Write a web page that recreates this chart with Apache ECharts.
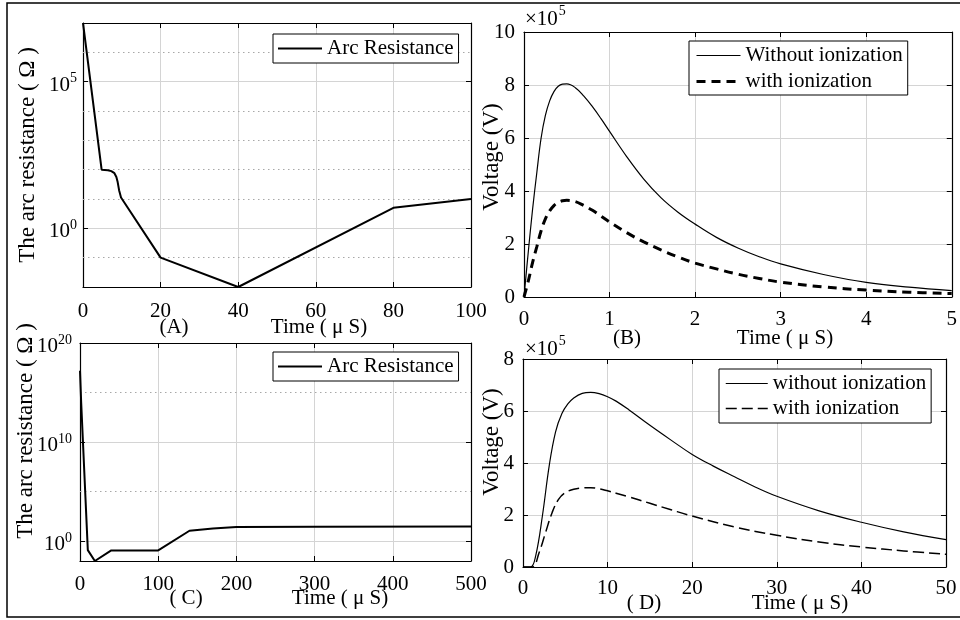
<!DOCTYPE html>
<html><head><meta charset="utf-8">
<script src="https://cdn.jsdelivr.net/npm/echarts@6/dist/echarts.min.js"></script>
<style>html,body{margin:0;padding:0;background:#fff}#c{width:960px;height:620px}</style>
</head><body><div id="c"></div><script>
const FONT = "'Liberation Serif','Times New Roman',serif";

// ---- Panel A: arc resistance, log10(Ohm) vs time (us)
const tA    = [0, 4.8, 6.4, 7.3, 8.1, 8.6, 8.9, 9.3, 9.8, 20, 40, 80, 100];
const logRA = [7, 2.0, 1.98, 1.95, 1.88, 1.75, 1.6, 1.3, 1.05, -1.0, -2.0, 0.7, 1.0];
const majorA = [0, 5];
const minorA = [-1, 1, 2, 3, 4, 6];

// ---- Panel B: voltage (x1e5 V) vs time (us)
const tB = [0, 0.05, 0.1, 0.15, 0.2, 0.25, 0.3, 0.35, 0.4, 0.45, 0.5, 0.6, 0.7, 0.8, 0.9, 1.0, 1.2, 1.4, 1.6, 1.8, 2.0, 2.25, 2.5, 2.75, 3.0, 3.5, 4.0, 4.5, 5.0];
const vBwithout = [0, 1.7, 3.3, 4.7, 6.0, 6.85, 7.4, 7.75, 7.95, 8.03, 8.04, 7.9, 7.58, 7.18, 6.73, 6.25, 5.3, 4.45, 3.75, 3.2, 2.75, 2.25, 1.85, 1.52, 1.25, 0.85, 0.55, 0.37, 0.24];
const vBwith    = [0, 0.6, 1.3, 1.9, 2.5, 2.95, 3.25, 3.45, 3.57, 3.63, 3.65, 3.6, 3.45, 3.27, 3.05, 2.83, 2.43, 2.08, 1.78, 1.51, 1.28, 1.06, 0.86, 0.7, 0.56, 0.38, 0.26, 0.18, 0.13];

// ---- Panel C: arc resistance, log10(Ohm) vs time (us)
const tC    = [0, 1.5, 10, 19, 40, 100, 140, 170, 200, 300, 500];
const logRC = [17.2, 14, -0.9, -2, -0.93, -0.93, 1.05, 1.28, 1.42, 1.46, 1.48];
const majorC = [0, 10, 20];
const minorC = [5, 15];

// ---- Panel D: voltage (x1e5 V) vs time (us)
const tD1 = [0, 0.9, 1.5, 2.3, 3.1, 3.85, 4.6, 5.3, 6, 7, 8, 9, 10, 11, 12.5, 15, 17.5, 20, 22.5, 25, 27.5, 30, 35, 40, 45, 50];
const vDwithout = [0, 0, 0.43, 1.98, 3.9, 5.2, 5.9, 6.27, 6.5, 6.68, 6.72, 6.67, 6.55, 6.38, 6.05, 5.45, 4.88, 4.33, 3.88, 3.47, 3.07, 2.72, 2.16, 1.72, 1.35, 1.05];
const tD2 = [0, 1.1, 1.9, 2.67, 3.45, 4.2, 5.0, 6, 7, 8, 9, 10, 11, 12.5, 15, 17.5, 20, 25, 30, 35, 40, 45, 50];
const vDwith = [0, 0, 0.55, 1.33, 2.1, 2.6, 2.86, 2.99, 3.04, 3.05, 3.01, 2.93, 2.84, 2.7, 2.45, 2.2, 1.96, 1.54, 1.22, 0.96, 0.77, 0.62, 0.49];

const zip = (a, b) => a.map((v, i) => [v, b[i]]);

const grids = [
  {left: 83,  top: 23,  width: 388, height: 264},
  {left: 524, top: 32,  width: 429, height: 265},
  {left: 80,  top: 343, width: 391, height: 218},
  {left: 523, top: 359, width: 423, height: 208}
];

const axisLine = {show: true, onZero: false, lineStyle: {color: '#000', width: 1.2}};
const tickIn = {show: true, inside: true, length: 5, lineStyle: {color: '#000', width: 1}};
const split = {show: true, lineStyle: {color: '#d4d4d4', width: 1}};
const lab = (margin) => ({show: true, margin, color: '#000', fontFamily: FONT, fontSize: 21});
const supFmt = v => '{b|10}{s|' + v + '}';
const supRich = {
  b: {fontFamily: FONT, fontSize: 21, color: '#000', padding: [7, 0, 0, 0]},
  s: {fontFamily: FONT, fontSize: 14, color: '#000', padding: [0, 0, 6, 0]}
};

function xPair(gi, min, max, interval, margin) {
  return [
    {type: 'value', gridIndex: gi, min, max, interval, position: 'bottom',
     axisLine, axisTick: tickIn, splitLine: split, axisLabel: lab(margin)},
    {type: 'value', gridIndex: gi, min, max, interval, position: 'top',
     axisLine, axisTick: tickIn, splitLine: {show: false}, axisLabel: {show: false}}
  ];
}
function yPairLin(gi, min, max, interval, margin) {
  return [
    {type: 'value', gridIndex: gi, min, max, interval, position: 'left',
     axisLine, axisTick: tickIn, splitLine: split, axisLabel: lab(margin)},
    {type: 'value', gridIndex: gi, min, max, interval, position: 'right',
     axisLine, axisTick: tickIn, splitLine: {show: false}, axisLabel: {show: false}}
  ];
}
function yPairLog(gi, min, max, major, margin) {
  return [
    {type: 'value', gridIndex: gi, min, max, position: 'left',
     axisLine, axisTick: Object.assign({customValues: major}, tickIn), splitLine: split,
     axisLabel: Object.assign(lab(margin), {customValues: major, formatter: supFmt, rich: supRich})},
    {type: 'value', gridIndex: gi, min, max, position: 'right',
     axisLine, axisTick: Object.assign({customValues: major}, tickIn), splitLine: {show: false}, axisLabel: {show: false}}
  ];
}

const minorMark = vals => ({
  silent: true, symbol: ['none', 'none'], label: {show: false}, z: 1, animation: false,
  lineStyle: {color: '#a8a8a8', type: [1.5, 3.5], width: 1},
  emphasis: {disabled: true},
  data: vals.map(v => ({yAxis: v}))
});

const xAxis = [].concat(
  xPair(0, 0, 100, 20, 14),
  xPair(1, 0, 5, 1, 12),
  xPair(2, 0, 500, 100, 13),
  xPair(3, 0, 50, 10, 11)
);
const yAxis = [].concat(
  yPairLog(0, -2, 7, majorA, 6),
  yPairLin(1, 0, 10, 2, 9),
  yPairLog(2, -2, 20, majorC, 8),
  yPairLin(3, 0, 8, 2, 9)
);

const series = [
  {name: 'Arc Resistance', type: 'line', xAxisIndex: 0, yAxisIndex: 0, data: zip(tA, logRA),
   symbol: 'none', lineStyle: {color: '#000', width: 2}, itemStyle: {color: '#000'}, clip: true,
   markLine: minorMark(minorA)},
  {name: 'Without ionization', type: 'line', xAxisIndex: 2, yAxisIndex: 2, data: zip(tB, vBwithout),
   symbol: 'none', smooth: 0.4, lineStyle: {color: '#000', width: 1.2}, itemStyle: {color: '#000'}},
  {name: 'with ionization', type: 'line', xAxisIndex: 2, yAxisIndex: 2, data: zip(tB, vBwith),
   symbol: 'none', smooth: 0.4, lineStyle: {color: '#000', width: 3, type: [9, 6]}, itemStyle: {color: '#000'}},
  {name: 'Arc Resistance', type: 'line', xAxisIndex: 4, yAxisIndex: 4, data: zip(tC, logRC),
   symbol: 'none', lineStyle: {color: '#000', width: 2}, itemStyle: {color: '#000'}, clip: true,
   markLine: minorMark(minorC)},
  {name: 'without ionization', type: 'line', xAxisIndex: 6, yAxisIndex: 6, data: zip(tD1, vDwithout),
   symbol: 'none', smooth: 0.4, lineStyle: {color: '#000', width: 1.2}, itemStyle: {color: '#000'}},
  {name: 'with ionization', type: 'line', xAxisIndex: 6, yAxisIndex: 6, data: zip(tD2, vDwith),
   symbol: 'none', smooth: 0.4, lineStyle: {color: '#000', width: 1.5, type: [11, 5]}, itemStyle: {color: '#000'}}
];

const legBase = {
  orient: 'vertical', borderColor: '#000', borderWidth: 1, backgroundColor: '#fff', borderRadius: 0,
  itemWidth: 44, itemHeight: 14, selectedMode: false,
  itemStyle: {opacity: 0, borderWidth: 0},
  textStyle: {fontFamily: FONT, fontSize: 21, color: '#000'}
};
const hide = {opacity: 0, borderWidth: 0};
const legend = [
  Object.assign({}, legBase, {left: 273, top: 34, padding: [4, 5, 4, 4],
    data: [{name: 'Arc Resistance', itemStyle: hide, lineStyle: {width: 2, type: 'solid', color: '#000', opacity: 1}}]}),
  Object.assign({}, legBase, {left: 689, top: 41, padding: [4, 5, 3, 6], itemGap: 5,
    data: [{name: 'Without ionization', itemStyle: hide, lineStyle: {width: 1.2, type: 'solid', color: '#000', opacity: 1}},
           {name: 'with ionization', itemStyle: hide, lineStyle: {width: 3, type: [9, 6], color: '#000', opacity: 1}}]}),
  Object.assign({}, legBase, {left: 273, top: 352, padding: [4, 5, 4, 4],
    data: [{name: 'Arc Resistance', itemStyle: hide, lineStyle: {width: 2, type: 'solid', color: '#000', opacity: 1}}]}),
  Object.assign({}, legBase, {left: 719, top: 369, padding: [4, 5, 4, 6], itemGap: 4, itemWidth: 42,
    data: [{name: 'without ionization', itemStyle: hide, lineStyle: {width: 1.2, type: 'solid', color: '#000', opacity: 1}},
           {name: 'with ionization', itemStyle: hide, lineStyle: {width: 1.5, type: [11, 5], color: '#000', opacity: 1}}]})
];

function txt(x, y, text, size, rot) {
  return {type: 'text', x, y, rotation: rot || 0, z: 100, silent: true,
    style: {text, fontFamily: FONT, fontSize: size, fill: '#000',
      align: 'center', verticalAlign: 'middle', textAlign: 'center', textVerticalAlign: 'middle'}};
}
function expText(x, y, size) {
  return {type: 'text', x, y, z: 100, silent: true,
    style: {text: '{b|×10}{s|5}', align: 'left', verticalAlign: 'middle',
      textAlign: 'left', textVerticalAlign: 'middle',
      rich: {b: {fontFamily: FONT, fontSize: size, fill: '#000', color: '#000', padding: [6, 0, 0, 0]},
             s: {fontFamily: FONT, fontSize: 14, fill: '#000', color: '#000', padding: [0, 0, 10, 1]}}}};
}

const graphic = [
  {type: 'rect', z: 100, silent: true, shape: {x: 7, y: 3, width: 960, height: 614},
   style: {fill: 'none', stroke: '#000', lineWidth: 1.5}},
  txt(28, 155, 'The arc resistance ( Ω )', 23, Math.PI / 2),
  txt(26, 431, 'The arc resistance ( Ω )', 23, Math.PI / 2),
  txt(492, 157, 'Voltage (V)', 23, Math.PI / 2),
  txt(492, 442, 'Voltage (V)', 23, Math.PI / 2),
  txt(174, 327, '(A)', 21), txt(319, 327, 'Time ( μ S)', 21),
  txt(627, 338, '(B)', 21), txt(785, 338, 'Time ( μ S)', 21),
  txt(186, 598, '( C)', 21), txt(340, 598, 'Time ( μ S)', 21),
  txt(644, 603, '( D)', 21), txt(800, 603, 'Time ( μ S)', 21),
  expText(525, 16, 21),
  expText(525, 346, 21)
];

const chart = echarts.init(document.getElementById('c'), null, {renderer: 'canvas'});
chart.setOption({
  animation: false, backgroundColor: '#fff',
  grid: grids, xAxis, yAxis, series, legend, graphic
});
</script></body></html>
